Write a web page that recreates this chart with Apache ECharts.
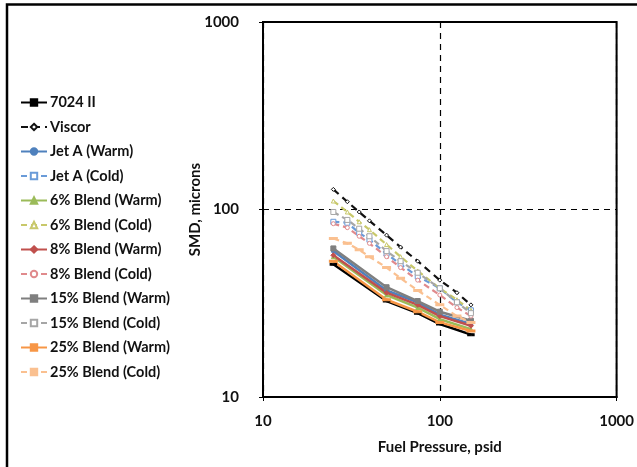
<!DOCTYPE html>
<html>
<head>
<meta charset="utf-8">
<script src="https://cdn.jsdelivr.net/npm/echarts@6/dist/echarts.min.js"></script>
<style>
html,body{margin:0;padding:0;background:#fff;}
#chart{width:637px;height:467px;}
</style>
</head>
<body>
<div id="chart"></div>
<script>
// Pressures (psid)
var warmPressures = [25, 50, 75, 100, 150];
var coldPressures = [25, 30, 35, 40, 50, 60, 75, 100, 125, 150];

// SMD (microns)
var smd7024 = [51, 32.5, 28, 24.5, 21.5];
var smdViscor = [128, 110, 97, 87, 73, 63, 53, 42, 36, 31];
var smdJetAWarm = [60, 37, 32, 27.5, 24.5];
var smdJetACold = [86, 85, 75, 69, 58, 51, 44, 38, 32, 29];
var smd6Warm = [56, 35, 30, 26, 23];
var smd6Cold = [111, 97, 86, 78, 65, 56, 47, 38, 33, 29];
var smd8Warm = [57, 36, 31, 27, 24];
var smd8Cold = [84, 80, 72, 66, 56, 49, 42, 35, 30, 27];
var smd15Warm = [62, 38.5, 32.5, 28.5, 25.5];
var smd15Cold = [97, 88, 79, 72, 60, 53, 46, 38, 32, 28];
var smd25Warm = [53, 33, 28.5, 25, 22.5];
var smd25Cold = [70, 66, 61, 56, 49, 43, 37, 31, 27, 25];

var seriesNames = ['7024 II','Viscor','Jet A (Warm)','Jet A (Cold)','6% Blend (Warm)','6% Blend (Cold)','8% Blend (Warm)','8% Blend (Cold)','15% Blend (Warm)','15% Blend (Cold)','25% Blend (Warm)','25% Blend (Cold)'];
var xTickLabels = ['10','100','1000'];
var yTickLabels = ['10','100','1000'];

function pts(xs, ys){ return xs.map(function(x,i){ return [x, ys[i]]; }); }

var styles = [
  {c:'#000000', dash:'solid', sym:'rect', size:[5,2], fill:'#000000'},
  {c:'#111111', dash:[7,5], sym:'diamond', size:4, fill:'#ffffff'},
  {c:'#4f81bd', dash:'solid', sym:'circle', size:4, fill:'#4f81bd'},
  {c:'#6a9bd8', dash:[6,4], sym:'rect', size:5, fill:'#ffffff'},
  {c:'#9bbb59', dash:'solid', sym:'triangle', size:4, fill:'#9bbb59'},
  {c:'#c8c86a', dash:[6,4], sym:'triangle', size:4, fill:'#ffffff'},
  {c:'#c0504d', dash:'solid', sym:'diamond', size:5, fill:'#c0504d'},
  {c:'#e08a8c', dash:[6,4], sym:'circle', size:4, fill:'#ffffff'},
  {c:'#7f7f7f', dash:'solid', sym:'rect', size:5, fill:'#7f7f7f'},
  {c:'#a6a6a6', dash:[6,4], sym:'rect', size:5, fill:'#ffffff'},
  {c:'#f79646', dash:'solid', sym:'rect', size:[6,2], fill:'#f79646'},
  {c:'#fac090', dash:[6,4], sym:'rect', size:[6,2], fill:'#fac090'}
];
var dataSets = [
  pts(warmPressures, smd7024), pts(coldPressures, smdViscor),
  pts(warmPressures, smdJetAWarm), pts(coldPressures, smdJetACold),
  pts(warmPressures, smd6Warm), pts(coldPressures, smd6Cold),
  pts(warmPressures, smd8Warm), pts(coldPressures, smd8Cold),
  pts(warmPressures, smd15Warm), pts(coldPressures, smd15Cold),
  pts(warmPressures, smd25Warm), pts(coldPressures, smd25Cold)
];

var series = seriesNames.map(function(n,i){
  var s = styles[i];
  return {
    name: n, type: 'line', data: dataSets[i],
    symbol: s.sym, symbolSize: s.size, showAllSymbol: true,
    lineStyle: {color: s.c, width: (s.dash==='solid'?2.5:2.2), type: s.dash},
    itemStyle: {color: s.fill, borderColor: s.c, borderWidth: 1},
    z: (s.dash==='solid'?2:3)
  };
});

var font = 'Lato, "Liberation Sans", sans-serif';
var chart = echarts.init(document.getElementById('chart'), null, {renderer:'canvas'});
chart.setOption({
  animation: false,
  backgroundColor: '#ffffff',
  grid: {left: 263, top: 22, width: 354, height: 375, show: true, borderColor: '#000', borderWidth: 2, backgroundColor: 'transparent'},
  legend: {
    orient: 'vertical', left: 15, top: 90,
    itemWidth: 26, itemHeight: 8, itemGap: 9.5,
    data: seriesNames,
    textStyle: {fontFamily: font, fontWeight: 'bold', fontSize: 14.5, color: '#111', padding: [0,0,0,-2]}
  },
  xAxis: {
    type: 'log', logBase: 10, min: 10, max: 1000,
    name: 'Fuel Pressure, psid', nameLocation: 'middle', nameGap: 43,
    nameTextStyle: {fontFamily: font, fontWeight: 'bold', fontSize: 15, color: '#111'},
    axisLine: {show: true, lineStyle: {color: '#000', width: 2}},
    axisTick: {show: true, inside: false, length: 4, lineStyle: {color: '#000'}},
    minorTick: {show: false},
    axisLabel: {fontFamily: font, fontWeight: 'bold', fontSize: 15, color: '#111', margin: 17,
      formatter: function(v){ var i = Math.round(Math.log10(v)) - 1; return xTickLabels[i] || ''; }},
    splitLine: {show: true, lineStyle: {color: '#000', type: [6,5], width: 1.2}}
  },
  yAxis: {
    type: 'log', logBase: 10, min: 10, max: 1000,
    name: 'SMD, microns', nameLocation: 'middle', nameGap: 60, nameMoveOverlap: false,
    nameTextStyle: {fontFamily: font, fontWeight: 'bold', fontSize: 15, color: '#111'},
    axisLine: {show: true, lineStyle: {color: '#000', width: 2}},
    axisTick: {show: true, inside: false, length: 4, lineStyle: {color: '#000'}},
    axisLabel: {fontFamily: font, fontWeight: 'bold', fontSize: 15, color: '#111', margin: 24,
      formatter: function(v){ var i = Math.round(Math.log10(v)) - 1; return yTickLabels[i] || ''; }},
    splitLine: {show: true, lineStyle: {color: '#000', type: [6,5], width: 1.2}}
  },
  graphic: [
    {type: 'polyline', silent: true, shape: {points: [[7,467],[7,4.5],[637,4.5]]}, style: {stroke: '#000', lineWidth: 2.5, fill: null}}
  ],
  series: series
});
</script>
</body>
</html>
